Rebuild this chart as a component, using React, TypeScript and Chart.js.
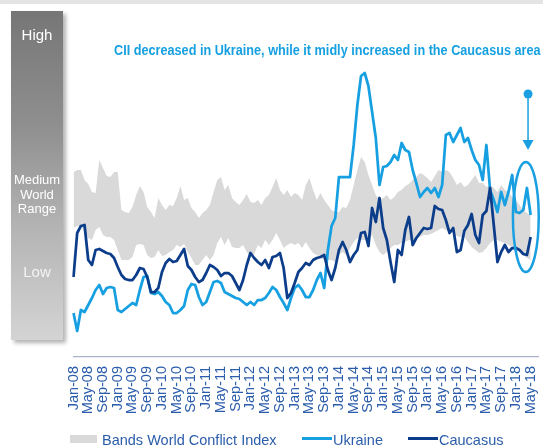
import React, { useEffect, useRef } from 'react';
import { Chart, registerables } from 'chart.js';

Chart.register(...registerables);

// ---------- categories (Jan-08 .. Jul-18) ----------
const MONTHS = ['Jan', 'Feb', 'Mar', 'Apr', 'May', 'Jun', 'Jul', 'Aug', 'Sep', 'Oct', 'Nov', 'Dec'];
const YEARS = ['08', '09', '10', '11', '12', '13', '14', '15', '16', '17', '18'];
const LAST_CATEGORY = 'Jul-18';
const CATEGORIES: string[] = [];
for (const yy of YEARS) {
  for (const m of MONTHS) {
    if (CATEGORIES[CATEGORIES.length - 1] === LAST_CATEGORY) break;
    CATEGORIES.push(`${m}-${yy}`);
  }
}
const LABEL_EVERY = 4;

// ---------- series (index units) ----------
const BAND_LOW = [
  129, 131, 131, 125, 119, 117, 127, 130, 122, 120, 120, 117, 107, 97, 97, 97, 100, 112, 113, 112,
  102, 99, 100, 107, 101, 102, 105, 107, 112, 110, 113, 105, 99, 92, 92, 97, 102, 97, 102, 114,
  120, 112, 119, 110, 109, 109, 112, 105, 100, 103, 112, 109, 117, 112, 117, 124, 117, 109, 112, 114,
  112, 114, 109, 115, 109, 104, 102, 100, 97, 97, 97, 95, 102, 105, 102, 109, 115, 119, 117, 117,
  119, 122, 112, 105, 102, 105, 109, 112, 112, 114, 115, 117, 117, 119, 120, 122, 122, 123, 125, 127,
  129, 127, 125, 124, 121, 120, 120, 115, 110, 107, 104, 105, 109, 114, 117, 117, 115, 114, 112, 110,
  107, 105, 102, 99, 97,
];
const BAND_HIGH = [
  185, 187, 187, 177, 173, 165, 164, 197, 189, 181, 180, 185, 185, 147, 145, 144, 150, 162, 171, 165,
  150, 145, 139, 159, 152, 147, 152, 151, 159, 171, 157, 159, 149, 145, 139, 144, 147, 152, 165, 177,
  180, 167, 172, 159, 155, 152, 157, 163, 155, 154, 157, 152, 159, 162, 170, 179, 167, 162, 167, 160,
  164, 162, 157, 172, 179, 167, 157, 164, 157, 152, 147, 145, 145, 150, 149, 157, 172, 187, 200, 195,
  182, 172, 162, 157, 159, 162, 157, 160, 165, 167, 171, 173, 177, 180, 184, 182, 179, 175, 181, 187,
  185, 187, 185, 179, 172, 175, 170, 172, 177, 182, 174, 174, 170, 172, 169, 165, 172, 167, 165, 160,
  157, 152, 147, 144, 142,
];
const UKRAINE = [
  44, 26, 47, 45, 52, 59, 67, 72, 63, 69, 70, 69, 47, 45, 48, 51, 54, 52, 67, 80,
  81, 64, 63, 65, 61, 55, 52, 44, 44, 47, 51, 67, 73, 72, 60, 52, 55, 65, 75, 76,
  74, 65, 63, 61, 59, 58, 55, 52, 55, 52, 57, 57, 59, 64, 70, 67, 60, 54, 47, 59,
  69, 72, 67, 60, 60, 67, 77, 84, 69, 107, 131, 139, 180, 180, 180, 180, 212, 252, 281, 284,
  271, 245, 219, 172, 190, 191, 195, 202, 197, 214, 207, 205, 187, 174, 160, 165, 169, 164, 169, 160,
  172, 222, 224, 215, 222, 229, 215, 219, 207, 197, 192, 177, 212, 167, 157, 145, 165, 152, 165, 182,
  145, 144, 147, 169, 142,
];
const CAUCASUS = [
  80, 124, 131, 132, 97, 92, 107, 108, 106, 104, 103, 99, 90, 82, 78, 77, 77, 82, 89, 88,
  80, 65, 65, 69, 85, 94, 98, 95, 96, 102, 108, 91, 87, 80, 75, 77, 84, 92, 90, 87,
  81, 84, 84, 81, 74, 67, 77, 92, 104, 99, 95, 92, 97, 89, 100, 101, 104, 89, 59, 64,
  74, 85, 89, 94, 92, 97, 99, 100, 102, 87, 77, 89, 107, 115, 107, 95, 102, 107, 124, 125,
  111, 149, 135, 159, 129, 117, 95, 75, 107, 102, 127, 140, 112, 119, 124, 129, 128, 129, 151, 148,
  147, 137, 124, 129, 105, 107, 126, 132, 143, 122, 114, 142, 146, 169, 132, 95, 105, 112, 105, 109,
  109, 107, 103, 102, 120,
];
const Y_MIN = 0;
const Y_MAX = 342;

// callout (ellipse + arrow) in data units: [category index, value]
const ELLIPSE_CENTER = [122.7, 140];
const ELLIPSE_RADII = [3.5, 55];
const ARROW_INDEX = 123.3;
const ARROW_FROM = 263;
const ARROW_TO = 207;

// ---------- texts ----------
const TITLE = 'CII decreased in Ukraine, while it midly increased in the Caucasus area';
const LEGEND_BAND = 'Bands World Conflict Index';
const LEGEND_UKRAINE = 'Ukraine';
const LEGEND_CAUCASUS = 'Caucasus';

// ---------- styles ----------
const FONT = '"Liberation Sans", Arial, Helvetica, sans-serif';
const C_BAND = '#d9d9d9';
const C_UKRAINE = '#16a0e2';
const C_CAUCASUS = '#0c3d8b';
const C_CALLOUT = '#1a9fe0';
const C_TEXT = '#2b5dab';
const C_TITLE = '#16a0e2';

const calloutPlugin = {
  id: 'callout',
  afterDatasetsDraw(chart: any) {
    const { ctx } = chart;
    const x = chart.scales.x;
    const y = chart.scales.y;
    ctx.save();
    ctx.strokeStyle = C_CALLOUT;
    ctx.fillStyle = C_CALLOUT;
    // ellipse
    const cx = x.getPixelForValue(ELLIPSE_CENTER[0]);
    const cy = y.getPixelForValue(ELLIPSE_CENTER[1]);
    const rx = Math.abs(x.getPixelForValue(ELLIPSE_CENTER[0] + ELLIPSE_RADII[0]) - cx);
    const ry = Math.abs(cy - y.getPixelForValue(ELLIPSE_CENTER[1] + ELLIPSE_RADII[1]));
    ctx.lineWidth = 2.5;
    ctx.beginPath();
    ctx.ellipse(cx, cy, rx, ry, 0, 0, Math.PI * 2);
    ctx.stroke();
    // arrow
    const ax = x.getPixelForValue(ARROW_INDEX);
    const y0 = y.getPixelForValue(ARROW_FROM);
    const y1 = y.getPixelForValue(ARROW_TO);
    ctx.lineWidth = 1.5;
    ctx.beginPath();
    ctx.moveTo(ax, y0);
    ctx.lineTo(ax, y1 - 8);
    ctx.stroke();
    ctx.beginPath();
    ctx.moveTo(ax - 5.5, y1 - 10);
    ctx.lineTo(ax + 5.5, y1 - 10);
    ctx.lineTo(ax, y1);
    ctx.closePath();
    ctx.fill();
    ctx.beginPath();
    ctx.arc(ax, y0, 4.5, 0, Math.PI * 2);
    ctx.fill();
    ctx.restore();
  },
};

export default function App() {
  const canvasRef = useRef<HTMLCanvasElement | null>(null);
  const titleRef = useRef<HTMLSpanElement | null>(null);

  useEffect(() => {
    const t = titleRef.current;
    if (t) {
      const w = t.offsetWidth;
      if (w > 0) t.style.transform = `scaleX(${427 / w})`;
    }
    const canvas = canvasRef.current;
    if (!canvas) return;
    const chart = new Chart(canvas, {
      type: 'line',
      data: {
        labels: CATEGORIES,
        datasets: [
          {
            label: 'band-low',
            data: BAND_LOW,
            borderWidth: 0,
            borderColor: 'rgba(0,0,0,0)',
            pointRadius: 0,
            fill: false,
            order: 4,
          },
          {
            label: LEGEND_BAND,
            data: BAND_HIGH,
            borderWidth: 0,
            borderColor: 'rgba(0,0,0,0)',
            backgroundColor: C_BAND,
            pointRadius: 0,
            fill: '-1',
            order: 3,
          },
          {
            label: LEGEND_UKRAINE,
            data: UKRAINE,
            borderColor: C_UKRAINE,
            borderWidth: 2.75,
            pointRadius: 0,
            fill: false,
            order: 2,
          },
          {
            label: LEGEND_CAUCASUS,
            data: CAUCASUS,
            borderColor: C_CAUCASUS,
            borderWidth: 2.75,
            pointRadius: 0,
            fill: false,
            order: 1,
          },
        ],
      },
      options: {
        responsive: false,
        animation: false,
        devicePixelRatio: 1,
        layout: { padding: { left: 73.5, right: 5, top: 15, bottom: 0 } },
        elements: { line: { tension: 0, borderJoinStyle: 'round' }, point: { radius: 0 } },
        plugins: {
          legend: { display: false },
          tooltip: { enabled: false },
          title: { display: false },
        },
        scales: {
          x: {
            type: 'category',
            offset: false,
            grid: { display: false, drawTicks: false },
            border: { display: true, color: '#a9b2c6', width: 1.2 },
            ticks: {
              autoSkip: false,
              minRotation: 90,
              maxRotation: 90,
              padding: 9,
              color: C_TEXT,
              font: { family: FONT, size: 14.5 },
              callback: (_v: any, i: number) => (i % LABEL_EVERY === 0 ? CATEGORIES[i] : null),
            },
            afterFit: (s: any) => {
              s.height = 89;
              s.paddingLeft = 0;
              s.paddingRight = 0;
            },
          },
          y: { display: false, min: Y_MIN, max: Y_MAX },
        },
      },
      plugins: [calloutPlugin],
    } as any);
    return () => chart.destroy();
  }, []);

  const abs = (s: React.CSSProperties): React.CSSProperties => ({ position: 'absolute', ...s });

  return (
    <div
      style={{
        position: 'fixed',
        left: 0,
        top: 0,
        width: 543,
        height: 446,
        background: '#ffffff',
        overflow: 'hidden',
        fontFamily: FONT,
      }}
    >
      <div style={abs({ left: 0, top: 0, width: 543, height: 4, background: '#e4e4e4' })} />
      <div
        style={abs({
          left: 11,
          top: 11,
          width: 52,
          height: 329,
          background: 'linear-gradient(to bottom, #767676 0%, #8f8f8f 35%, #b3b3b3 65%, #d4d4d4 100%)',
          boxShadow: '3px 3px 4px rgba(0,0,0,0.3)',
        })}
      />
      <canvas ref={canvasRef} width={543} height={446} style={abs({ left: 0, top: 0, width: 543, height: 446 })} />
      <div style={abs({ left: 11, width: 52, top: 27.3, fontSize: 15, lineHeight: '15px', color: '#ffffff', textAlign: 'center' })}>High</div>
      <div style={abs({ left: 5, width: 64, top: 173.4, fontSize: 13, lineHeight: '14.2px', color: '#ffffff', textAlign: 'center' })}>
        Medium<br />World<br />Range
      </div>
      <div style={abs({ left: 11, width: 52, top: 264, fontSize: 15, lineHeight: '15px', color: '#f4f4f4', textAlign: 'center' })}>Low</div>
      <span
        ref={titleRef}
        style={abs({
          left: 114,
          top: 43,
          fontSize: 14,
          lineHeight: '14px',
          fontWeight: 'bold',
          color: C_TITLE,
          whiteSpace: 'nowrap',
          display: 'inline-block',
          transformOrigin: 'left top',
        })}
      >
        {TITLE}
      </span>
      <div style={abs({ left: 70, top: 435, width: 27, height: 8, background: C_BAND })} />
      <div style={abs({ left: 102, top: 432.7, fontSize: 14.5, lineHeight: '14.5px', color: C_TEXT, whiteSpace: 'nowrap' })}>{LEGEND_BAND}</div>
      <div style={abs({ left: 302, top: 437, width: 30, height: 3, background: C_UKRAINE })} />
      <div style={abs({ left: 333, top: 432.7, fontSize: 14.5, lineHeight: '14.5px', color: C_TEXT, whiteSpace: 'nowrap' })}>{LEGEND_UKRAINE}</div>
      <div style={abs({ left: 408, top: 437, width: 30, height: 3, background: C_CAUCASUS })} />
      <div style={abs({ left: 439, top: 432.7, fontSize: 14.5, lineHeight: '14.5px', color: C_TEXT, whiteSpace: 'nowrap' })}>{LEGEND_CAUCASUS}</div>
    </div>
  );
}
